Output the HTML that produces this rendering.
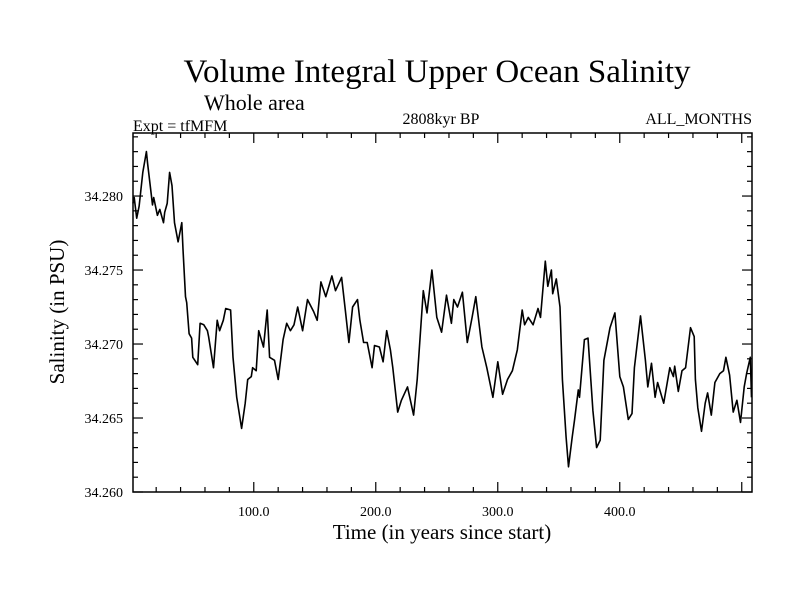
<!DOCTYPE html>
<html><head><meta charset="utf-8"><style>
body{margin:0;background:#fff}
svg{display:block;font-family:"Liberation Serif",serif}
</style></head><body>
<svg id="chart" width="800" height="600" viewBox="0 0 800 600">
<rect width="800" height="600" fill="#fff"/>
<text x="437" y="82" font-size="33" text-anchor="middle">Volume Integral Upper Ocean Salinity</text>
<text x="204" y="110" font-size="22">Whole area</text>
<text x="133" y="131" font-size="16">Expt = tfMFM</text>
<text x="441" y="124" font-size="16" text-anchor="middle">2808kyr BP</text>
<text x="752" y="124" font-size="16" text-anchor="end">ALL_MONTHS</text>
<text x="442" y="539" font-size="21" text-anchor="middle">Time (in years since start)</text>
<text transform="translate(64,312) rotate(-90)" font-size="21" text-anchor="middle">Salinity (in PSU)</text>
<g id="ticks"></g>
<path id="line" fill="none" stroke="#000" stroke-width="1.6" stroke-linejoin="round"/>
<rect x="133" y="133" width="619" height="359" fill="none" stroke="#000" stroke-width="1.5"/>
</svg>
<script>
const years=[1,2,4,6,9,12,13,17,18,21,23,26,27,29,31,33,35,38,41,42,44,45,47,49,50,54,56,59,62,63,67,70,72,75,77,81,83,86,90,93,95,98,99,102,104,108,111,113,117,120,124,127,130,133,136,140,144,149,152,155,159,164,167,172,175,178,181,185,187,190,193,197,199,203,206,209,212,214,218,221,226,231,234,239,242,246,250,254,258,262,264,267,271,275,279,282,287,291,296,300,304,308,312,316,320,322,325,329,333,335,339,341,344,345,348,351,353,356,358,361,363,366,367,371,374,378,381,384,387,392,396,400,403,407,410,412,417,421,423,426,429,431,436,441,444,445,448,451,454,458,461,462,464,467,470,472,475,478,482,485,487,490,493,496,499,502,504,507,508];
const salinity=[34.2795,34.2799,34.2785,34.2793,34.2816,34.2830,34.2822,34.2794,34.2799,34.2787,34.2791,34.2782,34.2789,34.2795,34.2816,34.2807,34.2782,34.2769,34.2782,34.2764,34.2732,34.2728,34.2707,34.2704,34.2691,34.2686,34.2714,34.2713,34.2709,34.2705,34.2684,34.2716,34.2709,34.2716,34.2724,34.2723,34.2691,34.2664,34.2643,34.2660,34.2676,34.2678,34.2684,34.2682,34.2709,34.2698,34.2723,34.2691,34.2689,34.2676,34.2703,34.2714,34.2709,34.2713,34.2725,34.2709,34.2730,34.2722,34.2716,34.2742,34.2732,34.2746,34.2736,34.2745,34.2723,34.2701,34.2725,34.2730,34.2716,34.2701,34.2701,34.2684,34.2699,34.2698,34.2688,34.2709,34.2696,34.2684,34.2654,34.2662,34.2671,34.2652,34.2676,34.2736,34.2721,34.2750,34.2718,34.2708,34.2733,34.2714,34.2730,34.2725,34.2735,34.2701,34.2718,34.2732,34.2698,34.2684,34.2664,34.2688,34.2666,34.2676,34.2682,34.2696,34.2723,34.2713,34.2718,34.2713,34.2724,34.2718,34.2756,34.2739,34.2750,34.2734,34.2744,34.2725,34.2676,34.2637,34.2617,34.2637,34.2649,34.2669,34.2664,34.2703,34.2704,34.2655,34.2630,34.2635,34.2689,34.2711,34.2721,34.2678,34.2671,34.2649,34.2653,34.2684,34.2719,34.2689,34.2671,34.2687,34.2664,34.2674,34.2660,34.2684,34.2678,34.2685,34.2668,34.2682,34.2684,34.2711,34.2705,34.2676,34.2657,34.2641,34.2660,34.2667,34.2652,34.2674,34.2680,34.2682,34.2691,34.2679,34.2654,34.2662,34.2647,34.2671,34.2680,34.2691,34.2664];
const xTickLabels=["100.0","200.0","300.0","400.0"];
const xTickValues=[100,200,300,400];
const yTickLabels=["34.260","34.265","34.270","34.275","34.280"];
const yTickValues=[34.260,34.265,34.270,34.275,34.280];

const X0=133,X1=752,Y0=492,Y1=133;
const xMin=1,xMax=508.4,yMin=34.260,yMax=34.28426;
const xs=v=>X0+(v-xMin)/(xMax-xMin)*(X1-X0);
const ys=v=>Y0-(v-yMin)/(yMax-yMin)*(Y0-Y1);
const NS="http://www.w3.org/2000/svg";
const g=document.getElementById('ticks');
function ln(x1,y1,x2,y2,name){const l=document.createElementNS(NS,'line');
l.setAttribute('x1',x1);l.setAttribute('y1',y1);l.setAttribute('x2',x2);l.setAttribute('y2',y2);
l.setAttribute('stroke','#000');l.setAttribute('stroke-width','1.2');


g.appendChild(l);}
function tx(x,y,s,anchor,name){const t=document.createElementNS(NS,'text');
t.setAttribute('x',x);t.setAttribute('y',y);t.setAttribute('font-size','14');t.setAttribute('text-anchor',anchor);t.textContent=s;


g.appendChild(t);}
for(let v=20;v<=500;v+=20){const x=xs(v);const maj=v%100===0;const L=maj?10:5;
ln(x,Y0,x,Y0-L,'x-tick');ln(x,Y1,x,Y1+L,'x-tick-top');}
xTickValues.forEach((v,i)=>tx(xs(v),516,xTickLabels[i],'middle','x-tick-label'));
for(let k=0;k<=24;k++){const v=34.260+k*0.001;const y=ys(v);const maj=k%5===0;const L=maj?10:5;
ln(X0,y,X0+L,y,'y-tick');ln(X1,y,X1-L,y,'y-tick-right');}
yTickValues.forEach((v,i)=>tx(123,ys(v)+5,yTickLabels[i],'end','y-tick-label'));
document.getElementById('line').setAttribute('d',years.map((y,i)=>(i?'L':'M')+xs(y).toFixed(1)+','+ys(salinity[i]).toFixed(1)).join(''));
</script>
</body></html>
